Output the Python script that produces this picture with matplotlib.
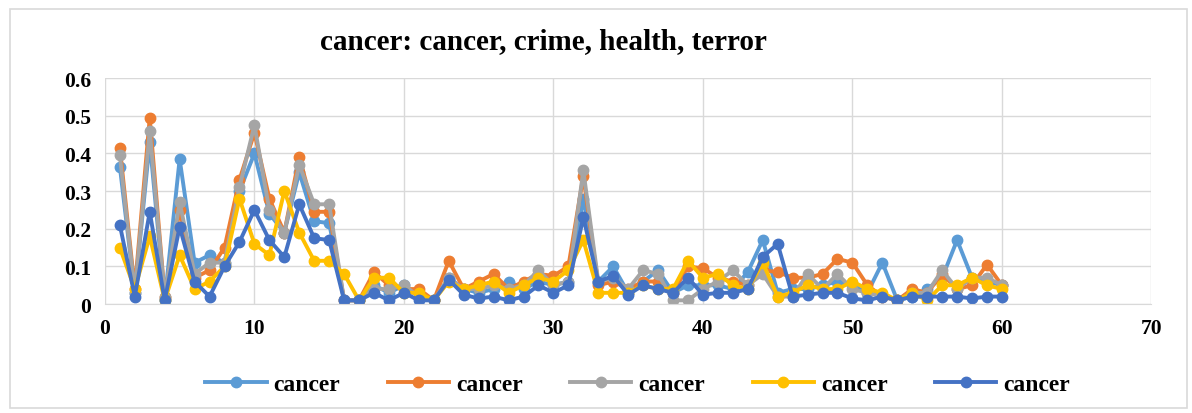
import matplotlib
matplotlib.use('Agg')
import matplotlib.pyplot as plt
from matplotlib.patches import Rectangle

# x: номер позиции 1..60
x = list(range(1, 61))

s1 = [0.365, 0.03, 0.43, 0.01, 0.385, 0.11, 0.13, 0.11, 0.30, 0.40,
      0.24, 0.19, 0.35, 0.22, 0.215, 0.01, 0.01, 0.05, 0.03, 0.05,
      0.02, 0.01, 0.07, 0.04, 0.03, 0.04, 0.06, 0.04, 0.06, 0.05,
      0.06, 0.28, 0.06, 0.10, 0.03, 0.06, 0.09, 0.03, 0.05, 0.05,
      0.05, 0.04, 0.085, 0.17, 0.03, 0.04, 0.04, 0.05, 0.06, 0.05,
      0.03, 0.11, 0.01, 0.02, 0.04, 0.07, 0.17, 0.07, 0.06, 0.05]
s2 = [0.415, 0.04, 0.495, 0.02, 0.25, 0.07, 0.09, 0.15, 0.33, 0.455,
      0.28, 0.19, 0.39, 0.245, 0.245, 0.01, 0.01, 0.085, 0.05, 0.04,
      0.04, 0.01, 0.115, 0.04, 0.06, 0.08, 0.04, 0.06, 0.08, 0.075,
      0.10, 0.34, 0.05, 0.06, 0.04, 0.06, 0.06, 0.03, 0.10, 0.095,
      0.07, 0.06, 0.05, 0.09, 0.085, 0.07, 0.07, 0.08, 0.12, 0.11,
      0.05, 0.02, 0.01, 0.04, 0.03, 0.08, 0.04, 0.05, 0.105, 0.05]
s3 = [0.395, 0.03, 0.46, 0.02, 0.27, 0.08, 0.11, 0.11, 0.31, 0.475,
      0.25, 0.19, 0.37, 0.265, 0.265, 0.01, 0.01, 0.04, 0.04, 0.05,
      0.02, 0.01, 0.07, 0.04, 0.04, 0.05, 0.04, 0.05, 0.09, 0.05,
      0.06, 0.355, 0.06, 0.07, 0.04, 0.09, 0.08, 0.01, 0.01, 0.04,
      0.06, 0.09, 0.05, 0.08, 0.02, 0.02, 0.08, 0.04, 0.08, 0.04,
      0.03, 0.02, 0.01, 0.03, 0.03, 0.09, 0.04, 0.07, 0.07, 0.05]
s4 = [0.15, 0.04, 0.18, 0.01, 0.13, 0.04, 0.06, 0.10, 0.28, 0.16,
      0.13, 0.30, 0.19, 0.115, 0.115, 0.08, 0.01, 0.07, 0.07, 0.03,
      0.03, 0.01, 0.06, 0.04, 0.05, 0.06, 0.03, 0.05, 0.07, 0.06,
      0.09, 0.17, 0.03, 0.03, 0.03, 0.05, 0.04, 0.04, 0.115, 0.07,
      0.08, 0.05, 0.04, 0.11, 0.02, 0.03, 0.05, 0.04, 0.04, 0.06,
      0.04, 0.03, 0.01, 0.03, 0.01, 0.05, 0.05, 0.07, 0.05, 0.04]
s5 = [0.21, 0.02, 0.245, 0.01, 0.205, 0.06, 0.02, 0.10, 0.165, 0.25,
      0.17, 0.125, 0.265, 0.175, 0.17, 0.01, 0.01, 0.03, 0.01, 0.03,
      0.01, 0.01, 0.065, 0.025, 0.015, 0.02, 0.01, 0.02, 0.05, 0.03,
      0.05, 0.23, 0.06, 0.075, 0.025, 0.05, 0.04, 0.03, 0.07, 0.025,
      0.03, 0.03, 0.04, 0.125, 0.16, 0.02, 0.025, 0.03, 0.03, 0.015,
      0.01, 0.02, 0.01, 0.02, 0.02, 0.02, 0.02, 0.015, 0.02, 0.02]

series = [s1, s2, s3, s4, s5]
names = ['cancer'] * 5
colors = ['#5B9BD5', '#ED7D31', '#A5A5A5', '#FFC000', '#4472C4']

plt.rcParams['font.family'] = ['Liberation Serif', 'DejaVu Serif']
plt.rcParams['font.weight'] = 'bold'

fig = plt.figure(figsize=(11.92, 4.14), dpi=100)
# рамка вокруг всей диаграммы
fig.patches.append(Rectangle((0.008, 0.012), 0.988, 0.965, transform=fig.transFigure,
                             fill=False, edgecolor='#D9D9D9', linewidth=1.2))

ax = fig.add_axes([0.088, 0.263, 0.878, 0.546])
for s, c, n in zip(series, colors, names):
    ax.plot(x, s, color=c, linewidth=2.8, marker='o', markersize=7.5, label=n)

ax.set_xlim(0, 70)
ax.set_ylim(0, 0.6)
ax.set_xticks(range(0, 71, 10))
ax.set_yticks([0, 0.1, 0.2, 0.3, 0.4, 0.5, 0.6])
ax.set_yticklabels(['0', '0.1', '0.2', '0.3', '0.4', '0.5', '0.6'])
ax.grid(True, color='#D9D9D9', linewidth=1)
ax.set_axisbelow(True)
for side in ['top', 'right', 'left']:
    ax.spines[side].set_visible(False)
ax.spines['bottom'].set_color('#D9D9D9')
ax.tick_params(length=0, labelsize=15.5, pad=10)
for lab in ax.get_xticklabels() + ax.get_yticklabels():
    lab.set_fontweight('bold')

fig.text(0.456, 0.9, 'cancer: cancer, crime, health, terror', ha='center', va='center',
         fontsize=21, fontweight='bold')

leg = fig.legend(loc='center', bbox_to_anchor=(0.535, 0.07), ncol=5, frameon=False,
                 handlelength=2.6, columnspacing=2.0, handletextpad=0.3,
                 prop={'weight': 'bold', 'size': 17})

fig.savefig('out.png', dpi=100)
